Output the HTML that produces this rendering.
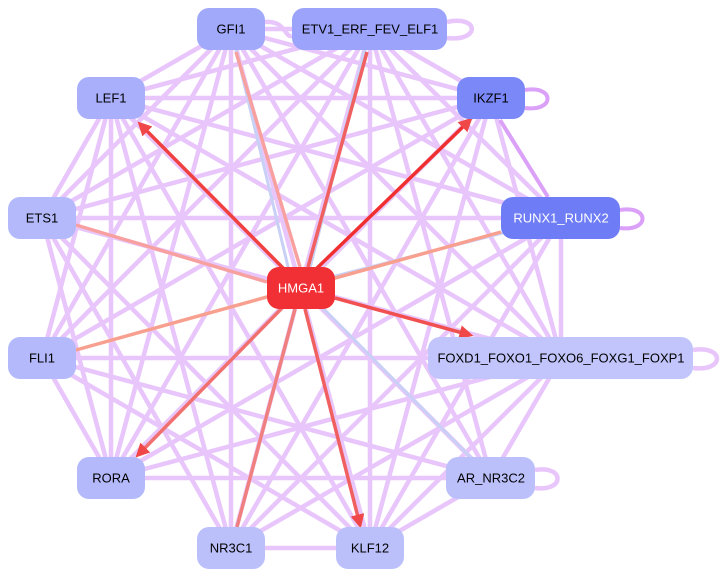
<!DOCTYPE html>
<html><head><meta charset="utf-8"><style>
html,body{margin:0;padding:0;background:#fff;width:725px;height:578px;overflow:hidden}
svg{display:block}
text{font-family:"Liberation Sans",sans-serif;font-size:13px;text-anchor:middle;dominant-baseline:central}
</style></head><body>
<svg width="725" height="578" viewBox="0 0 725 578">
<defs>
<marker id="r" markerWidth="4" markerHeight="4" refX="3" refY="2" orient="auto"><path d="M0,0L4,2L0,4z" fill="#f04848"/></marker>
</defs>
<g stroke="#e8c6fb" stroke-width="4.5" fill="none">
<line x1="231" y1="29" x2="111" y2="98"/><line x1="231" y1="29" x2="42" y2="218"/><line x1="231" y1="29" x2="42" y2="358"/>
<line x1="231" y1="29" x2="111" y2="478"/><line x1="231" y1="29" x2="231" y2="548"/><line x1="231" y1="29" x2="370" y2="548"/>
<line x1="231" y1="29" x2="491" y2="478"/><line x1="231" y1="29" x2="561" y2="358"/><line x1="231" y1="29" x2="561" y2="218"/>
<line x1="231" y1="29" x2="491" y2="98"/><line x1="231" y1="29" x2="370" y2="29"/>
<line x1="370" y1="29" x2="111" y2="98"/><line x1="370" y1="29" x2="42" y2="218"/><line x1="370" y1="29" x2="42" y2="358"/>
<line x1="370" y1="29" x2="111" y2="478"/><line x1="370" y1="29" x2="231" y2="548"/><line x1="370" y1="29" x2="370" y2="548"/>
<line x1="370" y1="29" x2="491" y2="478"/><line x1="370" y1="29" x2="561" y2="358"/><line x1="370" y1="29" x2="561" y2="218"/><line x1="370" y1="29" x2="491" y2="98"/>
<line x1="111" y1="98" x2="491" y2="98"/><line x1="111" y1="98" x2="561" y2="218"/><line x1="111" y1="98" x2="561" y2="358"/>
<line x1="111" y1="98" x2="491" y2="478"/><line x1="111" y1="98" x2="370" y2="548"/><line x1="111" y1="98" x2="231" y2="548"/>
<line x1="111" y1="98" x2="111" y2="478"/><line x1="111" y1="98" x2="42" y2="358"/><line x1="111" y1="98" x2="42" y2="218"/>
<line x1="42" y1="218" x2="491" y2="98"/><line x1="42" y1="218" x2="561" y2="218"/><line x1="42" y1="218" x2="561" y2="358"/>
<line x1="42" y1="218" x2="370" y2="548"/><line x1="42" y1="218" x2="231" y2="548"/><line x1="42" y1="218" x2="111" y2="478"/>
<line x1="42" y1="358" x2="491" y2="98"/><line x1="42" y1="358" x2="561" y2="358"/><line x1="42" y1="358" x2="491" y2="478"/>
<line x1="42" y1="358" x2="370" y2="548"/><line x1="42" y1="358" x2="111" y2="478"/>
<line x1="111" y1="478" x2="491" y2="98"/><line x1="111" y1="478" x2="561" y2="218"/><line x1="111" y1="478" x2="561" y2="358"/><line x1="111" y1="478" x2="491" y2="478"/>
<line x1="231" y1="548" x2="491" y2="98"/><line x1="231" y1="548" x2="561" y2="218"/><line x1="231" y1="548" x2="561" y2="358"/><line x1="231" y1="548" x2="370" y2="548"/>
<line x1="370" y1="548" x2="491" y2="98"/><line x1="370" y1="548" x2="561" y2="218"/><line x1="370" y1="548" x2="561" y2="358"/><line x1="370" y1="548" x2="491" y2="478"/>
<line x1="491" y1="478" x2="561" y2="358"/><line x1="491" y1="478" x2="111" y2="98"/>
<line x1="491" y1="98" x2="561" y2="358"/><line x1="561" y1="218" x2="561" y2="358"/>
<path d="M447,22 C480,15 480,42 447,38"/><path d="M693,350 C725,345 725,372 693,368"/><path d="M535,470 C565,465 565,492 535,488"/>
<path d="M265,22 C285,20 285,38 292,36"/>
</g>
<g stroke="#dba0f8" stroke-width="4" fill="none">
<line x1="500" y1="120" x2="548" y2="197"/>
<path d="M525,90 C555,85 555,112 525,108"/><path d="M620,210 C650,205 650,232 620,228"/>
</g>
<g stroke="#c9d0f6" stroke-width="3">
<line x1="231" y1="29" x2="290" y2="275"/><line x1="561" y1="218" x2="320" y2="280"/><line x1="491" y1="478" x2="315" y2="300"/><line x1="370" y1="29" x2="310" y2="268"/>
</g>
<g stroke-width="3.5" fill="none">
<line x1="285" y1="270" x2="140" y2="124" stroke="#f04040" marker-end="url(#r)"/>
<line x1="315" y1="270" x2="470" y2="120" stroke="#f03030" marker-end="url(#r)"/>
<line x1="335" y1="298" x2="470" y2="335" stroke="#f05050" marker-end="url(#r)"/>
<line x1="285" y1="305" x2="138" y2="455" stroke="#f07070" marker-end="url(#r)"/>
<line x1="305" y1="309" x2="360" y2="525" stroke="#f06060" marker-end="url(#r)"/>
<line x1="295" y1="309" x2="237" y2="527" stroke="#f08080"/>
<line x1="300" y1="267" x2="236" y2="52" stroke="#f8a0a0"/>
<line x1="308" y1="267" x2="367" y2="52" stroke="#f06060"/>
<line x1="76" y1="225" x2="267" y2="282" stroke="#f8a0a0"/>
<line x1="76" y1="350" x2="501" y2="232" stroke="#f8a090"/>
</g>
<g>
<rect x="197" y="8" width="68" height="42" rx="12" fill="#a1a9fb"/><text x="231" y="29">GFI1</text>
<rect x="292" y="8" width="155" height="42" rx="12" fill="#9ba3fa"/><text x="370" y="29">ETV1_ERF_FEV_ELF1</text>
<rect x="457" y="77" width="68" height="42" rx="12" fill="#7a88f8"/><text x="491" y="98">IKZF1</text>
<rect x="77" y="77" width="68" height="42" rx="12" fill="#a9affb"/><text x="111" y="98">LEF1</text>
<rect x="8" y="197" width="68" height="42" rx="12" fill="#b3b9fa"/><text x="42" y="218">ETS1</text>
<rect x="501" y="197" width="119" height="42" rx="12" fill="#6e7cf6"/><text x="561" y="218" fill="#fff">RUNX1_RUNX2</text>
<rect x="267" y="267" width="68" height="42" rx="12" fill="#f03035"/><text x="301" y="288" fill="#fff">HMGA1</text>
<rect x="8" y="337" width="68" height="42" rx="12" fill="#b3b9fa"/><text x="42" y="358">FLI1</text>
<rect x="428" y="337" width="265" height="42" rx="12" fill="#c1c5fb"/><text x="561" y="358">FOXD1_FOXO1_FOXO6_FOXG1_FOXP1</text>
<rect x="77" y="457" width="68" height="42" rx="12" fill="#b3b9fa"/><text x="111" y="478">RORA</text>
<rect x="446" y="457" width="89" height="42" rx="12" fill="#bbc0fb"/><text x="491" y="478">AR_NR3C2</text>
<rect x="197" y="527" width="68" height="42" rx="12" fill="#bbc0fb"/><text x="231" y="548">NR3C1</text>
<rect x="336" y="527" width="68" height="42" rx="12" fill="#bbc0fb"/><text x="370" y="548">KLF12</text>
</g>
</svg>
</body></html>
